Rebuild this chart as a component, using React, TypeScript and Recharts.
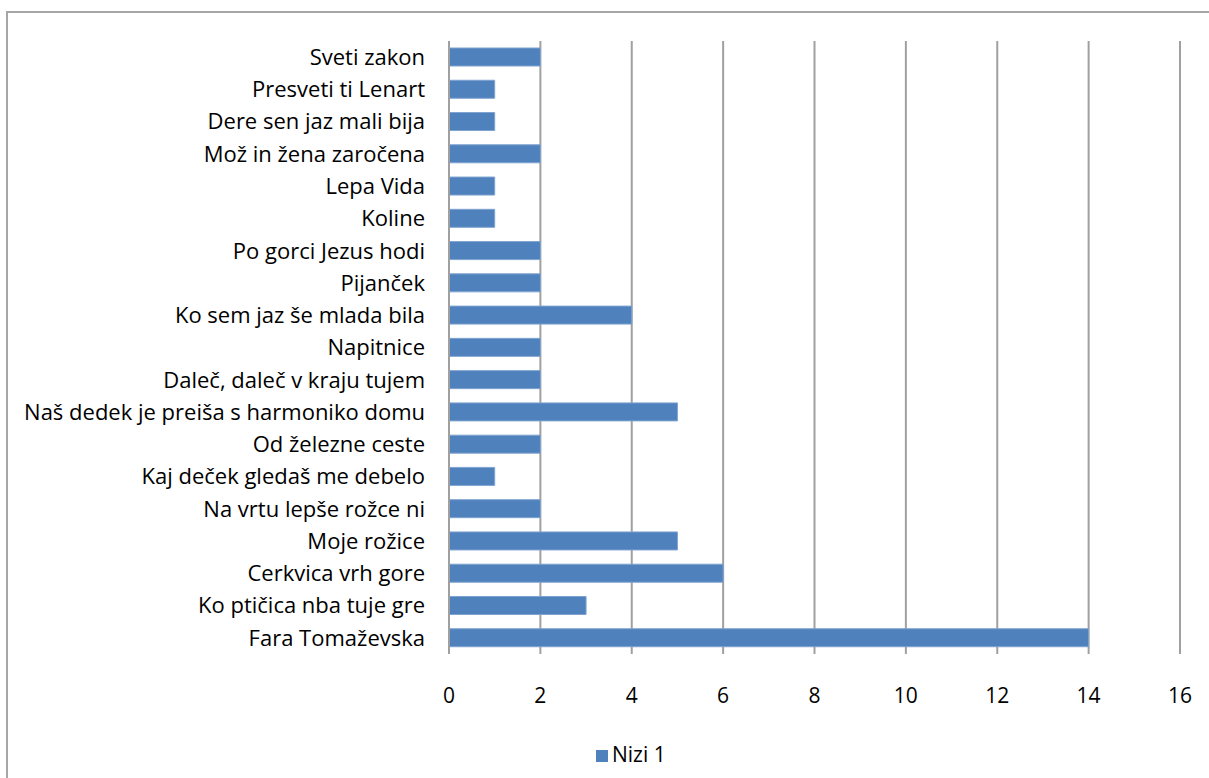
import { Bar, BarChart, CartesianGrid, Legend, XAxis, YAxis } from "recharts";

const songs = [
  "Sveti zakon",
  "Presveti ti Lenart",
  "Dere sen jaz mali bija ",
  "Mož in žena zaročena",
  "Lepa Vida",
  "Koline",
  "Po gorci Jezus hodi",
  "Pijanček",
  "Ko sem jaz še mlada bila",
  "Napitnice",
  "Daleč, daleč v kraju tujem",
  "Naš dedek je preiša s harmoniko domu",
  "Od železne ceste",
  "Kaj deček gledaš me debelo",
  "Na vrtu lepše rožce ni",
  "Moje rožice",
  "Cerkvica vrh gore",
  "Ko ptičica nba tuje gre",
  "Fara Tomaževska",
];

const counts = [2, 1, 1, 2, 1, 1, 2, 2, 4, 2, 2, 5, 2, 1, 2, 5, 6, 3, 14];

const xTicks = [0, 2, 4, 6, 8, 10, 12, 14, 16];

const data = songs.map((name, i) => ({ name, value: counts[i] }));

const font = "Open Sans, sans-serif";

export default function App() {
  return (
    <div
      style={{
        position: "fixed",
        left: 0,
        top: 0,
        width: 1209,
        height: 778,
        overflow: "hidden",
        background: "#fff",
      }}
    >
      {/* outer chart frame, runs off the right and bottom edges */}
      <div
        style={{
          position: "absolute",
          left: 6,
          top: 11,
          width: 1300,
          height: 900,
          border: "2px solid #a6a6a6",
        }}
      />
      <div style={{ position: "absolute", left: 0, top: 0 }}>
        <BarChart
          width={1209}
          height={778}
          layout="vertical"
          data={data}
          margin={{ top: 41, right: 29, left: 0, bottom: 0 }}
        >
          <CartesianGrid
            horizontal={false}
            vertical={true}
            stroke="#a0a0a0"
            strokeWidth={2}
          />
          <XAxis
            type="number"
            domain={[0, 16]}
            ticks={xTicks}
            height={100}
            axisLine={false}
            tickLine={false}
            tick={{ fill: "#000", fontSize: 21, fontFamily: font, dy: 26 }}
            interval={0}
          />
          <YAxis
            type="category"
            dataKey="name"
            width={449}
            axisLine={{ stroke: "#a0a0a0", strokeWidth: 2 }}
            tickLine={false}
            tickMargin={18}
            tick={{ fill: "#000", fontSize: 22, fontFamily: font }}
            interval={0}
          />
          <Legend
            verticalAlign="bottom"
            align="left"
            iconType="square"
            iconSize={12}
            wrapperStyle={{
              position: "absolute",
              left: 596,
              top: 742,
              width: 140,
              height: 24,
              lineHeight: "24px",
              fontFamily: font,
              fontSize: 21,
            }}
            formatter={(v) => <span style={{ color: "#000" }}>{v}</span>}
          />
          <Bar
            dataKey="value"
            name="Nizi 1"
            fill="#4f81bd"
            stroke="#7fa3d0"
            strokeWidth={1}
            barSize={18}
            isAnimationActive={false}
          />
        </BarChart>
      </div>
    </div>
  );
}
